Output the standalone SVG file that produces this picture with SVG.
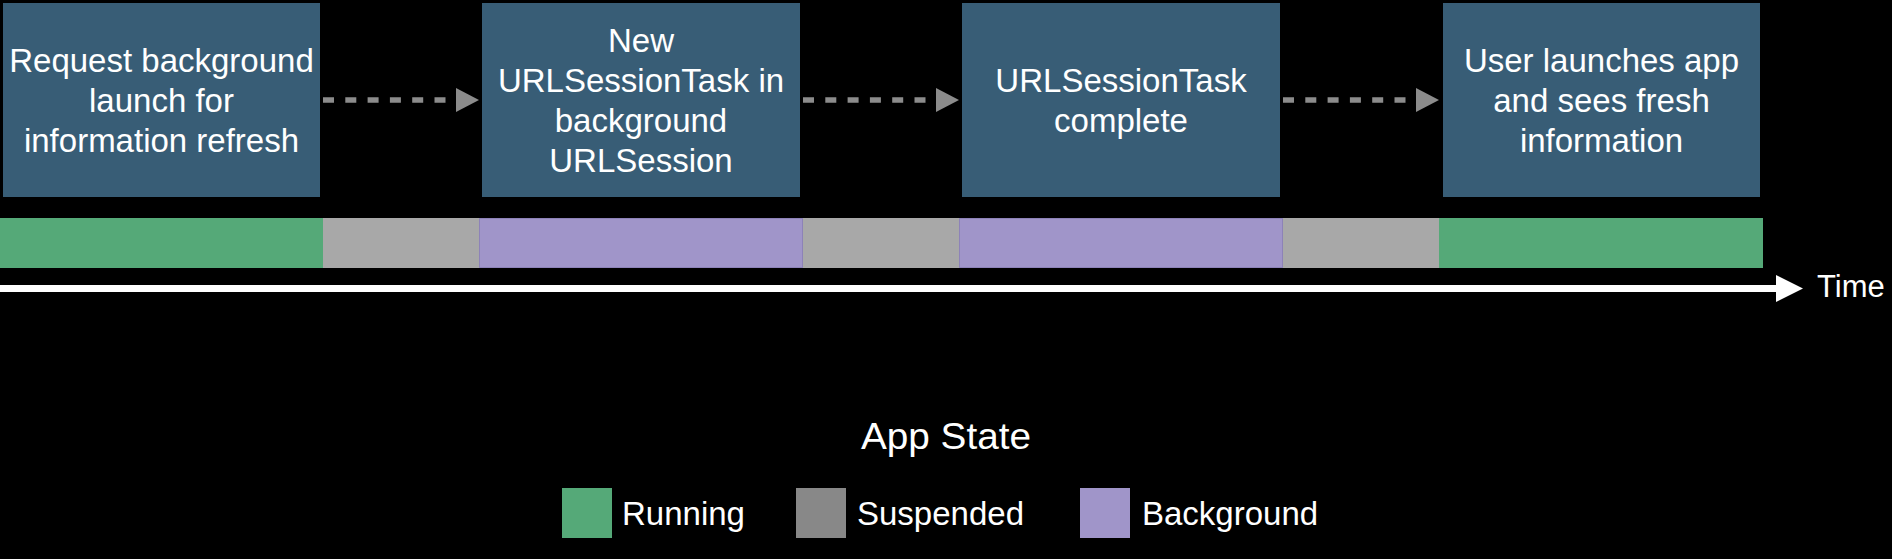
<svg xmlns="http://www.w3.org/2000/svg" width="1892" height="559" viewBox="0 0 1892 559">
<style>
.box{fill:#385D76}
.lbl{fill:#FFFFFF;font-family:"Liberation Sans","Inter",Arial,sans-serif;font-size:33px;text-anchor:middle}
.leg{fill:#FFFFFF;font-family:"Liberation Sans","Inter",Arial,sans-serif;font-size:33px}
.time{font-size:31px}
.title{font-size:36px;text-anchor:middle}
.dash{stroke:#8C8C8C;stroke-width:5.5;stroke-dasharray:11 11.3;fill:none}
.run{fill:#55A978}
.sus{fill:#A8A8A8}
.bg{fill:#A095C9;stroke:#8D82B8;stroke-width:1}
</style>
<defs>
<marker id="ah" markerWidth="23" markerHeight="24" refX="23" refY="12" orient="auto" markerUnits="userSpaceOnUse">
<path d="M0,0 L23,12 L0,24 Z" fill="#8C8C8C"/>
</marker>
</defs>
<rect x="0" y="0" width="1892" height="559" fill="#000000"/>

<g id="node-request">
<rect class="box" x="3" y="3" width="317" height="194"/>
<text class="lbl" x="161.5" y="72">Request background</text>
<text class="lbl" x="161.5" y="112">launch for</text>
<text class="lbl" x="161.5" y="152">information refresh</text>
</g>
<g id="node-newtask">
<rect class="box" x="482" y="3" width="318" height="194"/>
<text class="lbl" x="641" y="52">New</text>
<text class="lbl" x="641" y="92">URLSessionTask in</text>
<text class="lbl" x="641" y="132">background</text>
<text class="lbl" x="641" y="172">URLSession</text>
</g>
<g id="node-complete">
<rect class="box" x="962" y="3" width="318" height="194"/>
<text class="lbl" x="1121" y="92">URLSessionTask</text>
<text class="lbl" x="1121" y="132">complete</text>
</g>
<g id="node-launch">
<rect class="box" x="1443" y="3" width="317" height="194"/>
<text class="lbl" x="1601.5" y="72">User launches app</text>
<text class="lbl" x="1601.5" y="112">and sees fresh</text>
<text class="lbl" x="1601.5" y="152">information</text>
</g>

<g id="connectors">
<line class="dash" x1="323" y1="100" x2="479" y2="100" marker-end="url(#ah)"/>
<line class="dash" x1="803" y1="100" x2="959" y2="100" marker-end="url(#ah)"/>
<line class="dash" x1="1283" y1="100" x2="1439" y2="100" marker-end="url(#ah)"/>
</g>

<g id="state-bar">
<rect class="run" x="0" y="218" width="323" height="50"/>
<rect class="sus" x="323" y="218" width="156" height="50"/>
<rect class="bg" x="479.5" y="218.5" width="323" height="49"/>
<rect class="sus" x="803" y="218" width="156" height="50"/>
<rect class="bg" x="959.5" y="218.5" width="323" height="49"/>
<rect class="sus" x="1283" y="218" width="156" height="50"/>
<rect class="run" x="1439" y="218" width="324" height="50"/>
</g>

<g id="time-axis">
<rect x="0" y="285" width="1778" height="7" fill="#FFFFFF"/>
<path d="M1776,275 L1803,288.5 L1776,302 Z" fill="#FFFFFF"/>
<text class="leg time" x="1817" y="297">Time</text>
</g>

<g id="legend">
<text class="leg title" x="946" y="449" textLength="170" lengthAdjust="spacingAndGlyphs">App State</text>
<rect class="run" x="562" y="488" width="50" height="50"/>
<text class="leg" x="622" y="525">Running</text>
<rect x="796" y="488" width="50" height="50" fill="#888888"/>
<text class="leg" x="857" y="525">Suspended</text>
<rect x="1080" y="488" width="50" height="50" fill="#A095C9"/>
<text class="leg" x="1142" y="525">Background</text>
</g>
</svg>
